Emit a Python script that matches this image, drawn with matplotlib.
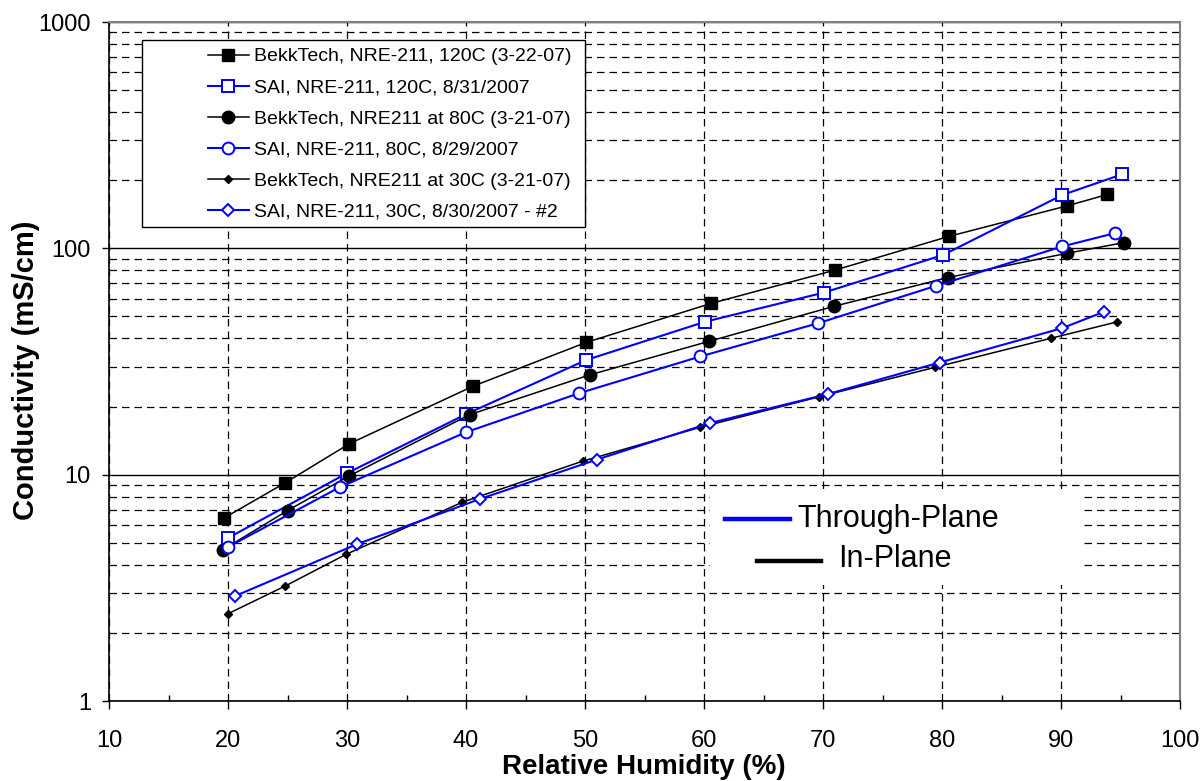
import matplotlib
matplotlib.use('Agg')
import matplotlib.pyplot as plt
from matplotlib.patches import Rectangle
from matplotlib.lines import Line2D
from matplotlib.ticker import FixedLocator, NullFormatter

plt.rcParams['font.family'] = ['Liberation Sans', 'DejaVu Sans']

# Relative humidity (%) and conductivity (mS/cm)
bt120_rh = [19.7, 24.8, 30.2, 40.6, 50.1, 60.6, 71.0, 80.6, 90.5, 93.9]
bt120_sig = [6.45, 9.2, 13.7, 24.6, 38.4, 57.1, 80.1, 113, 154, 173]

sai120_rh = [20.0, 30.0, 40.0, 50.1, 60.1, 70.1, 80.1, 90.1, 95.1]
sai120_sig = [5.25, 10.15, 18.5, 32.1, 47.4, 63.8, 93.5, 172, 212]

bt80_rh = [19.6, 25.0, 30.2, 40.3, 50.4, 60.4, 70.9, 80.5, 90.5, 95.3]
bt80_sig = [4.67, 6.94, 9.88, 18.4, 27.6, 38.8, 55.4, 74.3, 95.1, 106]

sai80_rh = [20.0, 29.4, 40.0, 49.5, 59.7, 69.6, 79.5, 90.1, 94.5]
sai80_sig = [4.79, 8.81, 15.4, 22.9, 33.3, 46.7, 68.3, 101.9, 116.6]

bt30_rh = [20.0, 24.8, 29.9, 39.7, 49.8, 59.7, 69.7, 79.4, 89.2, 94.7]
bt30_sig = [2.43, 3.22, 4.44, 7.56, 11.47, 16.2, 22.1, 29.8, 40.1, 47.3]

sai30_rh = [20.6, 30.8, 41.2, 51.0, 60.5, 70.4, 79.8, 90.1, 93.6]
sai30_sig = [2.91, 4.92, 7.82, 11.66, 16.9, 22.7, 31.3, 44.4, 52.4]

labels = ['BekkTech, NRE-211, 120C (3-22-07)',
          'SAI, NRE-211, 120C, 8/31/2007',
          'BekkTech, NRE211 at 80C (3-21-07)',
          'SAI, NRE-211, 80C, 8/29/2007',
          'BekkTech, NRE211 at 30C (3-21-07)',
          'SAI, NRE-211, 30C, 8/30/2007 - #2']

x_ticks = [10, 20, 30, 40, 50, 60, 70, 80, 90, 100]
y_ticks = [1, 10, 100, 1000]

blue = '#0000FF'

fig = plt.figure(figsize=(12.02, 7.81), dpi=100)
ax = fig.add_axes([109 / 1202, 1 - 701 / 781, (1180 - 109) / 1202, (701 - 22) / 781])

ax.plot(bt120_rh, bt120_sig, color='black', lw=1.1, marker='s', ms=8.5, mfc='black', mec='black', label=labels[0], zorder=3)
ax.plot(sai120_rh, sai120_sig, color=blue, lw=1.5, marker='s', ms=8.5, mfc='white', mec=blue, mew=1.4, label=labels[1], zorder=3)
ax.plot(bt80_rh, bt80_sig, color='black', lw=1.1, marker='o', ms=9, mfc='black', mec='black', label=labels[2], zorder=3)
ax.plot(sai80_rh, sai80_sig, color=blue, lw=1.5, marker='o', ms=8.5, mfc='white', mec=blue, mew=1.4, label=labels[3], zorder=3)
ax.plot(bt30_rh, bt30_sig, color='black', lw=1.1, marker='D', ms=4.5, mfc='black', mec='black', label=labels[4], zorder=3)
ax.plot(sai30_rh, sai30_sig, color=blue, lw=1.5, marker='D', ms=6.2, mfc='white', mec=blue, mew=1.4, label=labels[5], zorder=3)

ax.set_yscale('log')
ax.set_xlim(10, 100)
ax.set_ylim(1, 1000)

ax.set_xticks(x_ticks)
ax.set_xticklabels([str(v) for v in x_ticks])
ax.xaxis.set_minor_locator(FixedLocator([15, 25, 35, 45, 55, 65, 75, 85, 95]))
ax.set_yticks(y_ticks)
ax.set_yticklabels([str(v) for v in y_ticks])
ax.yaxis.set_minor_formatter(NullFormatter())

ax.tick_params(axis='x', which='major', direction='out', length=6, width=1, labelsize=17, pad=15)
ax.tick_params(axis='x', which='minor', direction='in', length=4.5, width=1)
ax.tick_params(axis='y', which='major', direction='out', length=5, width=1, labelsize=17, pad=8)
ax.tick_params(axis='y', which='minor', length=0)

ax.grid(True, which='major', axis='x', color='black', lw=0.9, ls=(0, (6, 4)))
ax.grid(True, which='major', axis='y', color='black', lw=1.0, ls='-')
ax.grid(True, which='minor', axis='y', color='black', lw=0.9, ls=(0, (6, 4)))
ax.set_axisbelow(True)

for side in ['top', 'right']:
    ax.spines[side].set_color('#808080')
    ax.spines[side].set_linewidth(1.5)
for side in ['left', 'bottom']:
    ax.spines[side].set_linewidth(1.2)


def px(xp, yp):
    # pixel position of the reference picture -> axes fraction
    return (xp - 109) / 1071, 1 - (yp - 22) / 679


ax.set_xlabel('Relative Humidity (%)', fontsize=20, fontweight='bold')
ax.set_ylabel('Conductivity (mS/cm)', fontsize=21, fontweight='bold')
ax.xaxis.set_label_coords(*px(644, 754))
ax.yaxis.set_label_coords(*px(40, 370))

# legend box (Excel style, wide left margin)
bx, by = px(142, 227)
ax.add_patch(Rectangle((bx, by), (585 - 142) / 1071, (227 - 40) / 679,
                       transform=ax.transAxes, facecolor='white', edgecolor='black', lw=1, zorder=4))
ax.legend(loc='upper left', bbox_to_anchor=px(202, 42), frameon=False,
          fontsize=14, handlelength=2.1, handletextpad=0.3, labelspacing=0.69, borderpad=0.3,
          borderaxespad=0)

# through-plane / in-plane key
kx, ky = px(710, 585)
ax.add_patch(Rectangle((kx, ky), (1083 - 710) / 1071, (585 - 490) / 679,
                       transform=ax.transAxes, facecolor='white', edgecolor='none', zorder=2))
x0, y0 = px(725, 519)
x1, _ = px(790, 519)
ax.add_line(Line2D([x0, x1], [y0, y0], transform=ax.transAxes, color=blue, lw=3.2, zorder=5))
ax.text(*px(797, 519), 'Through-Plane', transform=ax.transAxes, fontsize=22, va='center', ha='left', zorder=5)
x0, y0 = px(757, 561)
x1, _ = px(821, 561)
ax.add_line(Line2D([x0, x1], [y0, y0], transform=ax.transAxes, color='black', lw=3.2, zorder=5))
ax.text(*px(838, 559), 'In-Plane', transform=ax.transAxes, fontsize=22, va='center', ha='left', zorder=5)

fig.savefig('out.png', dpi=100)
